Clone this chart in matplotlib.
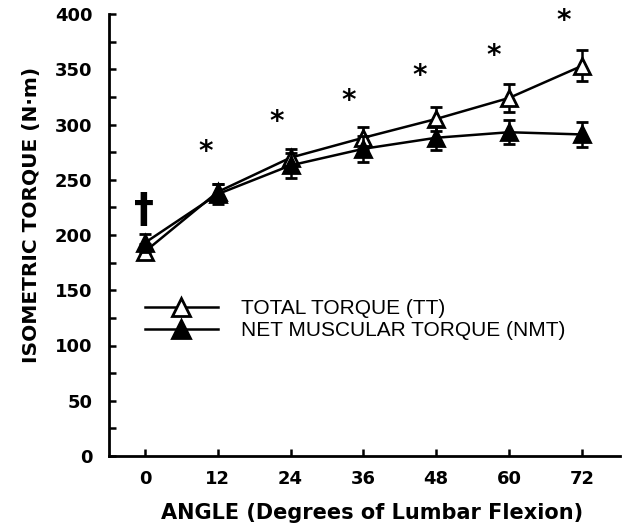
import matplotlib
matplotlib.use("Agg")
import matplotlib.pyplot as plt
from matplotlib.lines import Line2D

angles = [0, 12, 24, 36, 48, 60, 72]
tt_mean = [185, 239, 270, 288, 305, 324, 353]
tt_err = [7, 7, 8, 10, 11, 13, 14]
nmt_mean = [193, 237, 263, 278, 288, 293, 291]
nmt_err = [8, 9, 11, 12, 11, 11, 11]
star_x = [10, 21.7, 33.5, 45.2, 57.5, 69.1]
star_y = [275, 302, 321, 344, 362, 394]
dagger_x = [-0.2]
dagger_y = [222]
xtick_labels = ["0", "12", "24", "36", "48", "60", "72"]
yticks = [0, 50, 100, 150, 200, 250, 300, 350, 400]
legend_labels = ["TOTAL TORQUE (TT)", "NET MUSCULAR TORQUE (NMT)"]

plt.rcParams['font.family'] = ['Liberation Sans', 'DejaVu Sans']

fig = plt.figure(figsize=(6.29, 5.23), dpi=100)
ax = fig.add_axes([109/629, 1-456/523, (620-109)/629, (456-14)/523])

ax.errorbar(angles, tt_mean, yerr=tt_err, color='black', lw=1.8, marker='^',
            ms=12, mfc='white', mec='black', mew=2, capsize=4, capthick=1.8,
            elinewidth=1.8, zorder=3)
ax.errorbar(angles, nmt_mean, yerr=nmt_err, color='black', lw=1.8, marker='^',
            ms=12, mfc='black', mec='black', mew=2, capsize=4, capthick=1.8,
            elinewidth=1.8, zorder=4)

for x, y in zip(star_x, star_y):
    ax.text(x, y, "*", fontsize=20, fontweight='bold', ha='center', va='center',
            family='DejaVu Sans')
for x, y in zip(dagger_x, dagger_y):
    ax.text(x, y, "\u2020", fontsize=29, fontweight='bold', ha='center', va='center',
            family='DejaVu Sans')

ax.set_xlim(-5.93, 78.3)
ax.set_ylim(0, 400)
ax.set_xticks(angles)
ax.set_xticklabels(xtick_labels)
ax.set_yticks(yticks)
ax.set_yticks(range(25, 400, 50), minor=True)
for s in ['top', 'right']:
    ax.spines[s].set_visible(False)
for s in ['left', 'bottom']:
    ax.spines[s].set_linewidth(2)
ax.tick_params(axis='both', which='both', direction='in', width=1.8, length=5)
ax.tick_params(axis='y', pad=12, labelsize=13)
ax.tick_params(axis='x', pad=10, labelsize=13)
for lab in ax.get_xticklabels() + ax.get_yticklabels():
    lab.set_fontweight('bold')
    lab.set_family('DejaVu Sans')

ax.set_xlabel("ANGLE (Degrees of Lumbar Flexion)", fontsize=15, fontweight='bold',
              labelpad=11, family='DejaVu Sans')
ax.xaxis.label.set_x(0.514)
ax.set_ylabel("ISOMETRIC TORQUE (N\u00b7m)", fontsize=14.5, fontweight='bold',
              labelpad=10, family='DejaVu Sans')
ax.yaxis.label.set_y(0.545)

h1 = Line2D([], [], color='black', lw=1.8, marker='^', ms=13, mfc='white', mec='black', mew=2)
h2 = Line2D([], [], color='black', lw=1.8, marker='^', ms=13, mfc='black', mec='black', mew=2)
ax.legend([h1, h2], legend_labels, loc='upper left', bbox_to_anchor=(0.07, 0.355),
          frameon=False, fontsize=15, handlelength=3.5, handletextpad=1.1,
          labelspacing=0.15, borderpad=0, borderaxespad=0)

fig.savefig("out.png", dpi=100)
